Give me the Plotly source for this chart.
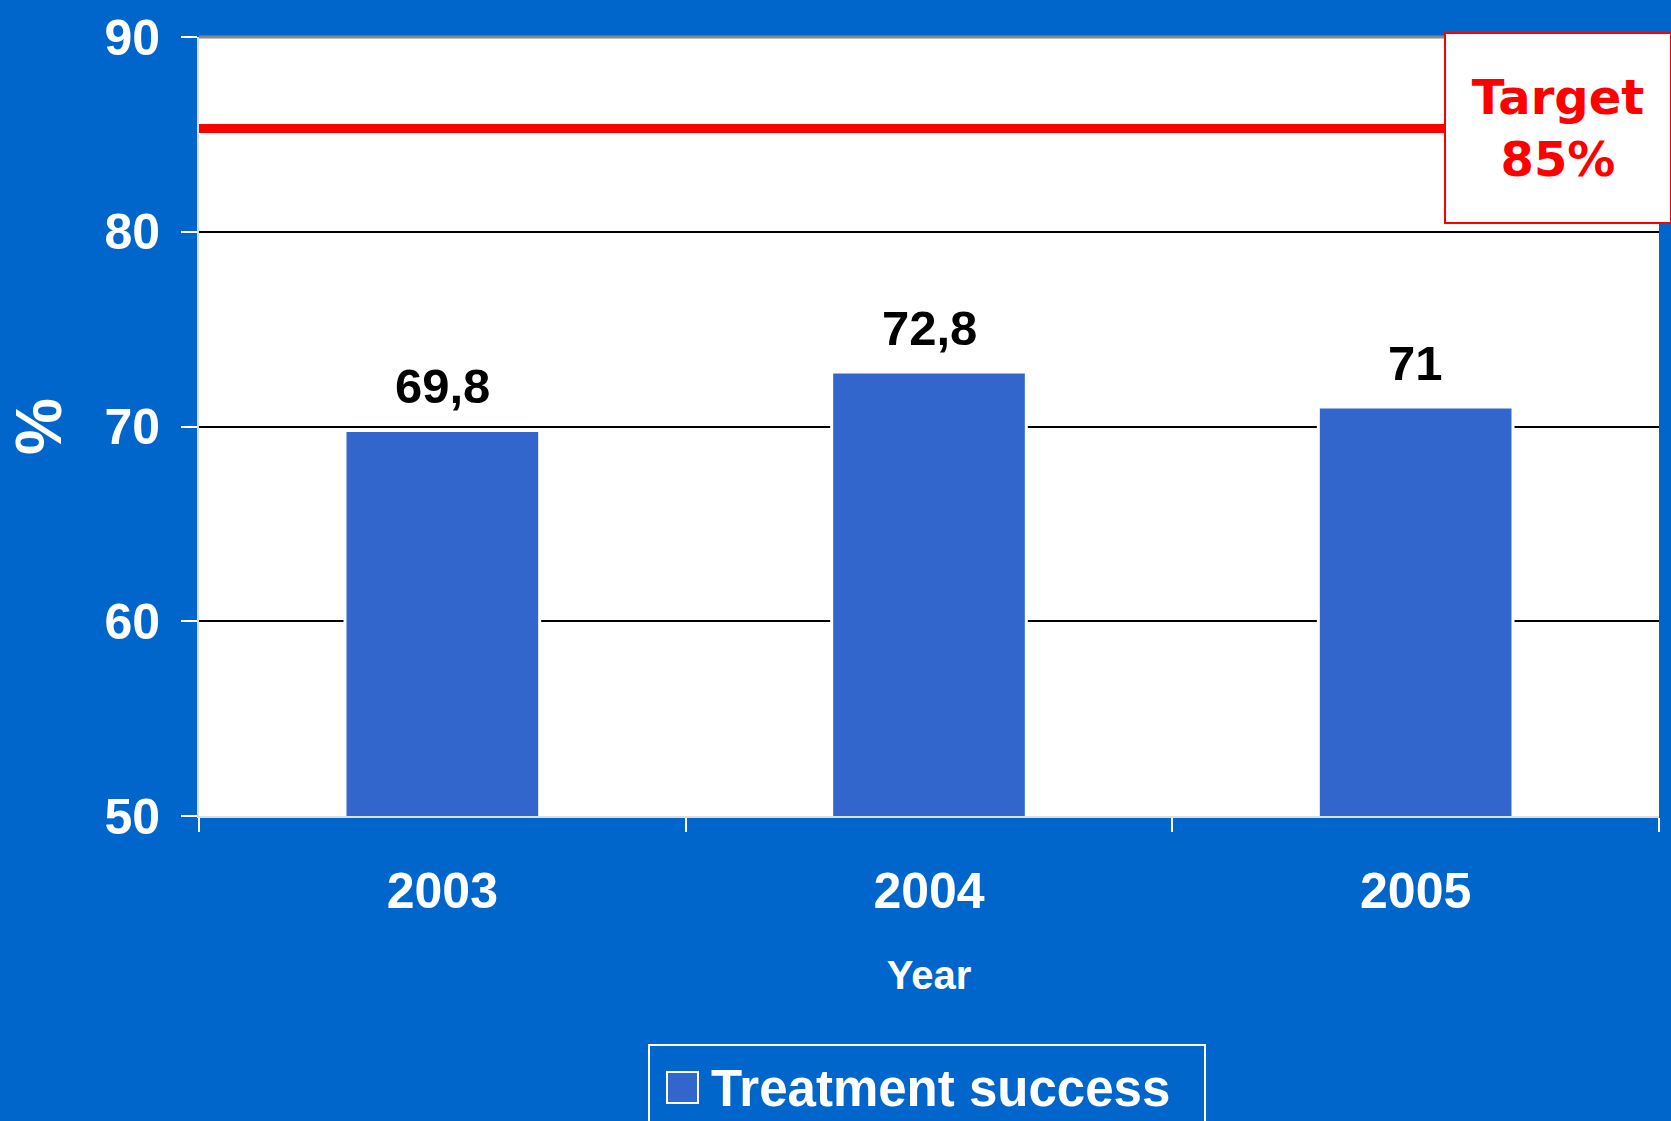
import plotly.graph_objects as go

# ---- data ----
years = ["2003", "2004", "2005"]
success = [69.8, 72.8, 71.0]
value_labels = ["69,8", "72,8", "71"]
series_name = "Treatment success"
target_line = 85.3          # drawn position of the target line
target_label = "Target<br>85%"
y_ticks = [50, 60, 70, 80, 90]

BG = "#0066CC"
BAR = "#3366CC"
FONT = "Liberation Sans, Arial, sans-serif"

# plot-area geometry in pixels (for paper-coordinate helpers)
W, H = 1671, 1121
L, R, T, B = 199, 12, 37, 305
PW, PH = W - L - R, H - T - B


def px(x):
    return (x - L) / PW


def py(y):
    return (H - B - y) / PH


fig = go.Figure()
fig.add_trace(go.Bar(
    x=years, y=success, name=series_name, showlegend=False,
    marker=dict(color=BAR, line=dict(color="white", width=3)),
    width=0.40,
))

# value labels above bars (category axis -> serial index)
for i, (v, t) in enumerate(zip(success, value_labels)):
    fig.add_annotation(x=i, y=v, text=t, showarrow=False,
                       xref="x", yref="y", yanchor="bottom", yshift=15,
                       font=dict(family=FONT, size=49, color="black", weight="bold"))

# target line
fig.add_shape(type="line", xref="paper", yref="y", x0=0, x1=1,
              y0=target_line, y1=target_line,
              line=dict(color="#FF0000", width=9), layer="above")
# top border
fig.add_shape(type="line", xref="paper", yref="paper", x0=0, x1=1, y0=1, y1=1,
              line=dict(color="#888888", width=3), layer="above")

# target box
fig.add_annotation(xref="paper", yref="paper", x=px(1558), y=py(128),
                   xanchor="center", yanchor="middle", showarrow=False,
                   text=target_label, width=222, height=186,
                   bgcolor="white", bordercolor="#FF0000", borderwidth=2, borderpad=1,
                   font=dict(family="DejaVu Sans", size=48, color="#FF0000", weight="bold"))

# legend (box, swatch, label) below the chart
fig.add_shape(type="rect", xref="paper", yref="paper",
              x0=px(649), x1=px(1205), y0=py(1045), y1=py(1130),
              line=dict(color="white", width=2), fillcolor=BG, layer="above")
fig.add_shape(type="rect", xref="paper", yref="paper",
              x0=px(667), x1=px(698), y0=py(1072), y1=py(1103),
              line=dict(color="white", width=2), fillcolor=BAR, layer="above")
fig.add_annotation(xref="paper", yref="paper", x=px(709), y=py(1088),
                   xanchor="left", yanchor="middle", showarrow=False,
                   text=series_name,
                   font=dict(family=FONT, size=51, color="white", weight="bold"))

fig.update_layout(
    width=W, height=H,
    paper_bgcolor=BG, plot_bgcolor="white",
    margin=dict(l=L, r=R, t=T, b=B, autoexpand=False),
    font=dict(family=FONT, color="white", weight="bold"),
    showlegend=False,
    xaxis=dict(type="category", range=[-0.5, len(years) - 0.5], showgrid=False,
               showline=True, linecolor="#DDDDDD", linewidth=2,
               ticks="outside", tickson="boundaries", ticklen=14, tickcolor="white", tickwidth=2,
               tickfont=dict(family=FONT, size=50, color="white", weight="bold"),
               tickangle=0, ticklabelstandoff=30,
               title=dict(text="Year", standoff=43,
                          font=dict(family=FONT, size=40, color="white", weight="bold")),
               zeroline=False, automargin=False),
    yaxis=dict(range=[50, 90], tickvals=y_ticks, showgrid=True, gridcolor="black", gridwidth=2,
               showline=True, linecolor="#DDDDDD", linewidth=2,
               ticks="outside", ticklen=16, tickcolor="white", tickwidth=2,
               tickfont=dict(family=FONT, size=50, color="white", weight="bold"),
               ticklabelstandoff=11,
               title=dict(text="%", standoff=22,
                          font=dict(family=FONT, size=64, color="white", weight="bold")),
               zeroline=False, automargin=False),
)

fig.write_html("out.html", post_script="document.body.style.margin='0';",
               config={"displayModeBar": False})
